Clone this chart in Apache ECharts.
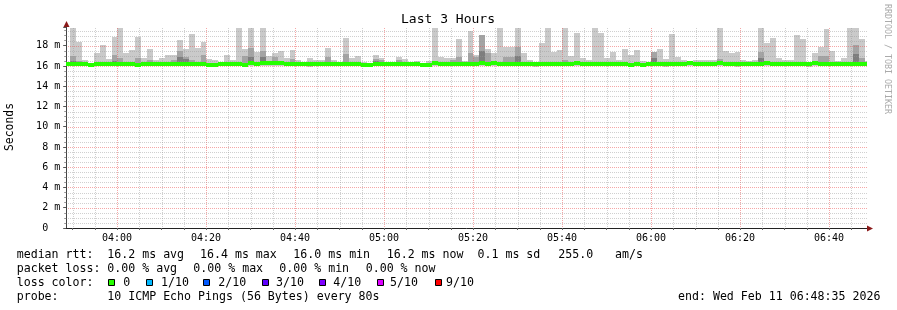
<!DOCTYPE html>
<html><head><meta charset="utf-8">
<script src="https://cdn.jsdelivr.net/npm/echarts@6/dist/echarts.min.js"></script>
<style>html,body{margin:0;padding:0;background:#fff}#c{width:897px;height:310px}</style>
</head><body><div id="c"></div>
<script>
const FONT = "'DejaVu Sans Mono', monospace";
// time window in minutes after midnight
const windowStart = 228 + 35 / 60;   // 03:48:35
const windowEnd = 408 + 35 / 60;     // 06:48:35
const firstStepStart = 228 + 6 / 60; // 03:48:06
const stepMinutes = 80 / 60;          // 80 s probe step
const yMax = 19.85;

const xLabelTicks = [240, 260, 280, 300, 320, 340, 360, 380, 400];
const xGridTicks = [230, 235, 240, 245, 250, 255, 260, 265, 270, 275, 280, 285, 290, 295, 300, 305, 310, 315, 320, 325, 330, 335, 340, 345, 350, 355, 360, 365, 370, 375, 380, 385, 390, 395, 400, 405];
const yLabelTicks = [0, 2, 4, 6, 8, 10, 12, 14, 16, 18];
const yGridTicks = [0.5, 1, 1.5, 2, 2.5, 3, 3.5, 4, 4.5, 5, 5.5, 6, 6.5, 7, 7.5, 8, 8.5, 9, 9.5, 10, 10.5, 11, 11.5, 12, 12.5, 13, 13.5, 14, 14.5, 15, 15.5, 16, 16.5, 17, 17.5, 18, 18.5, 19, 19.5];

// per-step ping statistics (ms)
const rttMax = [16.3, 19.78, 18.37, 16.55, 16.3, 17.3, 18.05, 16.7, 18.9, 19.78,
  17.3, 17.6, 18.9, 16.8, 17.7, 16.55, 16.75, 17.1, 17.1, 18.6,
  17.7, 19.2, 17.8, 18.37, 16.7, 16.6, 16.3, 17.1, 16.55, 19.78,
  17.7, 19.78, 17.4, 19.78, 17.0, 17.25, 17.45, 16.75, 17.6, 16.55,
  16.4, 16.8, 16.6, 16.6, 17.8, 16.6, 16.3, 18.8, 16.8, 17.0,
  16.4, 16.3, 17.1, 16.8, 16.3, 16.35, 16.9, 16.7, 16.3, 16.5,
  16.3, 16.5, 19.78, 16.9, 16.8, 16.75, 18.7, 16.5, 19.5, 17.05,
  19.1, 17.7, 17.3, 19.78, 17.88, 17.88, 19.78, 17.3, 16.56, 16.4,
  18.3, 19.78, 17.4, 17.6, 19.78, 17.0, 19.25, 16.8, 16.6, 19.78,
  19.3, 16.8, 17.4, 16.6, 17.7, 17.1, 17.6, 16.45, 16.4, 17.4,
  17.65, 16.7, 19.2, 16.85, 16.6, 16.5, 16.55, 16.6, 16.6, 16.6,
  19.78, 17.5, 17.3, 17.4, 16.6, 16.5, 16.6, 19.78, 18.3, 18.8,
  16.8, 16.55, 16.6, 19.1, 18.7, 16.4, 17.3, 17.9, 19.7, 17.5,
  16.5, 16.75, 19.78, 19.78, 18.7, 16.5];
const rttP9 = [null, 17.0, 16.5, null, null, null, null, null, 17.1, 16.8,
  null, null, 16.8, null, 16.6, null, null, null, 16.6, 17.5,
  16.9, 16.6, null, 17.1, null, null, null, null, null, null,
  17.0, 17.8, null, 17.5, null, 16.9, null, null, 16.7, null,
  null, null, null, null, 16.9, null, null, 17.2, null, null,
  null, null, 16.7, 16.6, null, null, 16.6, null, null, null,
  null, null, null, null, null, 16.6, 16.85, null, 17.3, 16.9,
  19.1, 17.3, null, null, 16.9, 16.9, 17.9, null, null, null,
  null, null, null, null, 16.6, null, null, null, null, null,
  null, null, null, null, null, null, null, null, null, 17.4,
  null, null, null, null, null, null, null, null, null, null,
  16.7, null, null, null, null, null, null, 17.4, null, null,
  null, null, null, null, null, null, null, 17.0, 17.0, null,
  null, null, null, 18.1, 16.8, null];
const rttP8 = [null, 16.5, null, null, null, null, null, null, 16.5, null,
  null, null, null, null, null, null, null, null, null, 16.9,
  16.7, null, null, null, null, null, null, null, null, null,
  null, 16.9, null, 16.9, null, null, null, null, null, null,
  null, null, null, null, null, null, null, null, null, null,
  null, null, 16.5, null, null, null, null, null, null, null,
  null, null, null, null, null, null, null, null, null, null,
  17.5, null, null, null, null, null, 17.0, null, null, null,
  null, null, null, null, null, null, null, null, null, null,
  null, null, null, null, null, null, null, null, null, 16.8,
  null, null, null, null, null, null, null, null, null, null,
  null, null, null, null, null, null, null, 16.8, null, null,
  null, null, null, null, null, null, null, null, null, null,
  null, null, null, 17.2, null, null];
const rttMin = [16.0, 16.0, 16.0, 15.95, 15.9, 16.0, 16.0, 15.95, 16.0, 16.0,
  16.0, 16.0, 15.9, 16.0, 16.0, 16.0, 16.0, 16.0, 16.0, 16.0,
  16.0, 16.0, 16.0, 16.0, 15.9, 16.0, 16.0, 16.0, 16.0, 16.0,
  15.9, 16.0, 16.0, 16.0, 16.0, 16.0, 16.0, 16.0, 16.0, 16.0,
  16.0, 15.9, 16.0, 16.0, 16.0, 16.0, 16.0, 16.0, 16.0, 16.0,
  15.9, 15.9, 16.0, 16.0, 16.0, 16.0, 16.0, 16.0, 16.0, 16.0,
  15.9, 16.0, 16.0, 16.0, 16.0, 16.0, 16.0, 16.0, 16.0, 16.0,
  16.0, 16.0, 16.0, 16.0, 16.0, 16.0, 16.0, 16.0, 16.0, 15.9,
  16.0, 16.0, 16.0, 16.0, 16.0, 16.0, 16.0, 16.0, 16.0, 16.0,
  16.0, 16.0, 16.0, 16.0, 16.0, 15.9, 16.0, 16.0, 16.0, 16.0,
  16.0, 15.9, 16.0, 16.0, 16.0, 16.0, 16.0, 16.0, 16.0, 16.0,
  16.0, 16.0, 16.0, 15.9, 16.0, 16.0, 16.0, 16.0, 16.0, 16.0,
  16.0, 16.0, 16.0, 16.0, 16.0, 15.9, 16.0, 16.0, 16.0, 16.0,
  16.0, 16.0, 16.0, 16.0, 16.0, 16.0];
const rttMedian = [16.2, 16.2, 16.2, 16.2, 16.1, 16.2, 16.2, 16.2, 16.2, 16.2,
  16.2, 16.2, 16.1, 16.2, 16.2, 16.2, 16.2, 16.2, 16.2, 16.2,
  16.2, 16.2, 16.2, 16.2, 16.1, 16.1, 16.2, 16.2, 16.2, 16.2,
  16.1, 16.3, 16.2, 16.3, 16.3, 16.25, 16.3, 16.2, 16.2, 16.2,
  16.2, 16.15, 16.2, 16.2, 16.2, 16.2, 16.2, 16.2, 16.2, 16.2,
  16.05, 16.05, 16.2, 16.2, 16.2, 16.2, 16.2, 16.2, 16.2, 16.2,
  16.05, 16.1, 16.25, 16.2, 16.2, 16.2, 16.2, 16.2, 16.2, 16.2,
  16.3, 16.2, 16.25, 16.2, 16.2, 16.2, 16.2, 16.2, 16.2, 16.15,
  16.2, 16.2, 16.2, 16.2, 16.2, 16.2, 16.3, 16.2, 16.2, 16.2,
  16.2, 16.2, 16.2, 16.2, 16.2, 16.1, 16.2, 16.1, 16.2, 16.2,
  16.2, 16.2, 16.2, 16.2, 16.2, 16.25, 16.2, 16.2, 16.2, 16.2,
  16.3, 16.2, 16.2, 16.2, 16.2, 16.2, 16.2, 16.2, 16.3, 16.2,
  16.2, 16.2, 16.2, 16.2, 16.2, 16.2, 16.25, 16.2, 16.2, 16.2,
  16.2, 16.2, 16.2, 16.2, 16.2, 16.2];

const lossColors = ['#26ff00', '#00b8ff', '#0059ff', '#5e00ff', '#7e00ff', '#dd00ff', '#ff0000'];
const lossLabels = ['0', '1/10', '2/10', '3/10', '4/10', '5/10', '9/10'];

const stepStarts = rttMax.map((_, i) => firstStepStart + i * stepMinutes);

const MINOR_GRID = 'rgba(150,150,150,0.45)';
const MAJOR_GRID = 'rgba(235,80,80,0.5)';

function fmtTime(v) {
  const h = Math.floor(v / 60), m = Math.round(v - h * 60);
  return String(h).padStart(2, '0') + ':' + String(m).padStart(2, '0');
}

function stepBox(params, api) {
  const cs = params.coordSys;
  const xl = Math.max(cs.x, api.coord([api.value(0), 0])[0]);
  const xr = Math.min(cs.x + cs.width, api.coord([api.value(1), 0])[0]);
  return [Math.round(xl), Math.round(xr)];
}
function band(api, x0, x1, lo, hi, color) {
  const yb = Math.round(api.coord([windowStart, lo])[1]);
  const yt = Math.round(api.coord([windowStart, hi])[1]);
  return { type: 'rect', shape: { x: x0, y: yt, width: x1 - x0, height: Math.max(0, yb - yt) }, style: { fill: color } };
}

function renderSmoke(params, api) {
  const i = params.dataIndex;
  const [x0, x1] = stepBox(params, api);
  if (x1 <= x0) return null;
  const kids = [band(api, x0, x1, api.value(2), api.value(3), '#cacaca')];
  if (rttP9[i] != null) kids.push(band(api, x0, x1, rttMedian[i], rttP9[i], '#a4a4a4'));
  if (rttP8[i] != null) kids.push(band(api, x0, x1, rttMedian[i], rttP8[i], '#7e7e7e'));
  return { type: 'group', children: kids };
}
function renderMedian(params, api) {
  const [x0, x1] = stepBox(params, api);
  if (x1 <= x0) return null;
  const yc = api.coord([windowStart, api.value(2)])[1];
  const yt = Math.round(yc - 2);
  return { type: 'rect', shape: { x: x0, y: yt, width: x1 - x0, height: 4 }, style: { fill: lossColors[0] } };
}
// vertical dotted grid line drawn as 1px dots
function renderVGrid(params, api) {
  const cs = params.coordSys;
  const v = api.value(0);
  const x = Math.round(api.coord([v, 0])[0]);
  const major = xLabelTicks.indexOf(v) >= 0;
  const color = major ? MAJOR_GRID : MINOR_GRID;
  const kids = [];
  const yb = Math.round(cs.y + cs.height);
  for (let y = yb - 2; y >= Math.round(cs.y); y -= 2) {
    kids.push({ type: 'rect', shape: { x: x, y: y, width: 1, height: 1 }, style: { fill: color } });
  }
  return { type: 'group', children: kids };
}
function renderHGrid(params, api) {
  const cs = params.coordSys;
  const v = api.value(1);
  const y = Math.round(api.coord([windowStart, v])[1]);
  const major = yLabelTicks.indexOf(v) >= 0;
  const color = major ? MAJOR_GRID : MINOR_GRID;
  const kids = [];
  for (let x = Math.round(cs.x) + 2; x < cs.x + cs.width; x += 2) {
    kids.push({ type: 'rect', shape: { x: x, y: y, width: 1, height: 1 }, style: { fill: color } });
  }
  return { type: 'group', children: kids };
}

const chart = echarts.init(document.getElementById('c'), null, { renderer: 'canvas' });

function txt(text, x, y, opts) {
  opts = opts || {};
  return {
    type: 'text', x: x, y: y, rotation: opts.rotation || 0, silent: true, z: 100,
    style: { text: text, x: 0, y: 0, font: (opts.size || 11.6) + 'px ' + FONT, fill: opts.color || '#000',
      align: opts.align || 'left', textAlign: opts.align || 'left',
      verticalAlign: 'middle', textVerticalAlign: 'middle' }
  };
}

const option = {
  animation: false,
  backgroundColor: '#ffffff',
  grid: { left: 66.2, top: 27, width: 801, height: 201, containLabel: false },
  xAxis: {
    type: 'value', min: windowStart, max: windowEnd,
    axisLine: { show: true, lineStyle: { color: '#222', width: 1 } },
    axisTick: { show: true, customValues: xGridTicks, length: 2, lineStyle: { color: '#666' } },
    axisLabel: { customValues: xLabelTicks, formatter: fmtTime, fontFamily: FONT, fontSize: 10, color: '#000', margin: 5 },
    splitLine: { show: false }
  },
  yAxis: {
    type: 'value', min: 0, max: yMax, interval: 2,
    axisLine: { show: true, onZero: false, lineStyle: { color: '#444' } },
    axisTick: { show: true, length: 3, lineStyle: { color: '#555' } },
    minorTick: { show: true, splitNumber: 4, length: 2, lineStyle: { color: '#999' } },
    axisLabel: { formatter: v => (v === 0 ? '0  ' : v + ' m'), showMaxLabel: false, fontFamily: FONT, fontSize: 10, color: '#000', margin: 6 },
    splitLine: { show: false }
  },
  series: [
    { type: 'custom', name: 'smoke', z: 1, silent: true, renderItem: renderSmoke,
      data: stepStarts.map((t, i) => [t, t + stepMinutes, rttMin[i], rttMax[i]]) },
    { type: 'custom', name: 'vgrid', z: 2, silent: true, renderItem: renderVGrid,
      data: xGridTicks.map(v => [v, 1]) },
    { type: 'custom', name: 'hgrid', z: 2, silent: true, renderItem: renderHGrid,
      data: yGridTicks.map(v => [windowStart, v]) },
    { type: 'custom', name: 'median', z: 3, silent: true, renderItem: renderMedian,
      data: stepStarts.map((t, i) => [t, t + stepMinutes, rttMedian[i]]) }
  ]
};
chart.setOption(option);

const pRight = chart.convertToPixel({ gridIndex: 0 }, [windowEnd, 0]);
const pTop = chart.convertToPixel({ gridIndex: 0 }, [windowStart, yMax]);
const ax = Math.round(pTop[0]) + 0.5, ay = Math.round(pRight[1]) + 0.5;
const xr = Math.round(pRight[0]), yt = Math.round(pTop[1]);

const g = [];
g.push({ type: 'polygon', shape: { points: [[xr, ay - 3], [xr + 6, ay], [xr, ay + 3]] }, style: { fill: '#8b1a1a' }, silent: true, z: 100 });
g.push({ type: 'polygon', shape: { points: [[ax - 3, yt], [ax, yt - 6], [ax + 3, yt]] }, style: { fill: '#8b1a1a' }, silent: true, z: 100 });
g.push(txt('Last 3 Hours', 448, 19.5, { size: 13, align: 'center' }));
g.push(txt('Seconds', 10.5, 127, { size: 11.4, align: 'center', rotation: Math.PI / 2 }));
g.push(txt('RRDTOOL / TOBI OETIKER', 887, 59, { size: 8.3, align: 'center', rotation: -Math.PI / 2, color: '#aaaaaa' }));

const L1 = 254.5, L2 = 268.5, L3 = 282.5, L4 = 296.5;
[['median rtt:', 16.7], ['16.2 ms avg', 107.3], ['16.4 ms max', 200], ['16.0 ms min', 293.3], ['16.2 ms now', 386.7],
 ['0.1 ms sd', 477.5], ['255.0', 558.3], ['am/s', 615]].forEach(([t, x]) => g.push(txt(t, x, L1)));
[['packet loss:', 16.7], ['0.00 % avg', 107.3], ['0.00 % max', 193.3], ['0.00 % min', 279.3], ['0.00 % now', 365.7]]
  .forEach(([t, x]) => g.push(txt(t, x, L2)));
g.push(txt('loss color:', 16.7, L3));
const boxX = [108, 145.5, 203, 261.5, 319, 376.5, 435];
const labX = [123.3, 161, 218.3, 276, 333.3, 390, 446];
lossColors.forEach((c, k) => {
  g.push({ type: 'rect', shape: { x: Math.round(boxX[k]) + 0.5, y: 279.5, width: 6, height: 6 },
    style: { fill: c, stroke: '#000', lineWidth: 1 }, silent: true, z: 100 });
  g.push(txt(lossLabels[k], labX[k], L3));
});
g.push(txt('probe:', 16.7, L4));
g.push(txt('10 ICMP Echo Pings (56 Bytes) every 80s', 107.3, L4));
g.push(txt('end: Wed Feb 11 06:48:35 2026', 678, L4));

chart.setOption({ graphic: g });
</script>
</body></html>
